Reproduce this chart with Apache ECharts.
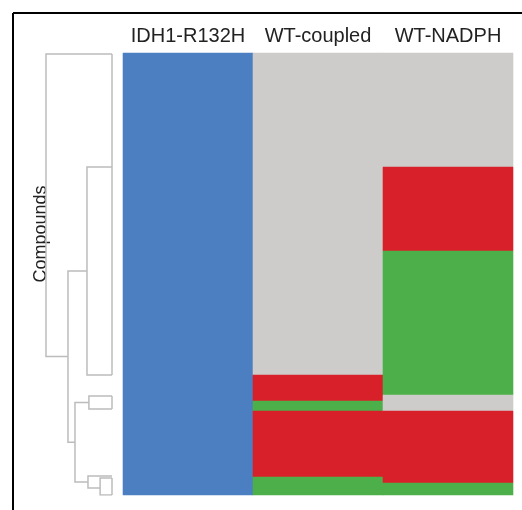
<!DOCTYPE html>
<html>
<head>
<meta charset="utf-8">
<script src="https://cdn.jsdelivr.net/npm/echarts@6/dist/echarts.min.js"></script>
<style>
html,body{margin:0;padding:0;background:#fff;}
#chart{width:522px;height:510px;}
</style>
</head>
<body>
<div id="chart"></div>
<script>
// ---- data ----
const assays = ['IDH1-R132H', 'WT-coupled', 'WT-NADPH'];
const nCompounds = 221;
// run-length encoded states per assay, top to bottom
// state codes: 0 = inactive (grey), 1 = red, 2 = green, 3 = blue
const idh1States = [3];
const idh1Counts = [221];
const coupledStates = [0, 1, 2, 1, 2];
const coupledCounts = [161, 13, 5, 33, 9];
const nadphStates = [0, 1, 2, 0, 1, 2];
const nadphCounts = [57, 42, 72, 8, 36, 6];
const stateColors = ['#cdcccb', '#d8202a', '#4caf4a', '#4b7fc1'];

// dendrogram merges: [topRow, topChildHeight, bottomRow, bottomChildHeight, mergeHeight]
const dendroMerges = [
  [0.5, 0, 161, 0, 0],
  [57, 0, 161, 0, 0.379],
  [171.5, 0, 178, 0, 0],
  [171.5, 0, 178, 0, 0.35],
  [211.5, 0, 217.5, 0.18, 0.364],
  [212.5, 0, 221, 0, 0],
  [212.5, 0, 221, 0, 0.18],
  [174.75, 0.35, 214.5, 0.364, 0.561],
  [109, 0.379, 194.6, 0.561, 0.667],
  [0.5, 0, 151.8, 0.667, 1.0]
];

// ---- build ----
function expand(states, counts, col) {
  const out = [];
  let r = 0;
  states.forEach((s, i) => {
    for (let k = 0; k < counts[i]; k++) { out.push([col, r, s]); r++; }
  });
  return out;
}
const heatData = [].concat(
  expand(idh1States, idh1Counts, 0),
  expand(coupledStates, coupledCounts, 1),
  expand(nadphStates, nadphCounts, 2)
);
const rows = [];
for (let i = 0; i < nCompounds; i++) rows.push('c' + (i + 1));

const dendroLines = dendroMerges.map(m => ({
  coords: [[m[1], m[0]], [m[4], m[0]], [m[4], m[2]], [m[3], m[2]]]
}));

const chart = echarts.init(document.getElementById('chart'), null, {renderer: 'canvas'});
chart.setOption({
  animation: false,
  backgroundColor: '#fff',
  textStyle: {fontFamily: 'Liberation Sans, Arial, sans-serif'},
  grid: [
    {left: 123, top: 53, width: 390, height: 442},
    {left: 46, top: 53, width: 66, height: 442}
  ],
  xAxis: [
    {
      type: 'category', data: assays, position: 'top', gridIndex: 0,
      axisLine: {show: false}, axisTick: {show: false}, splitLine: {show: false},
      axisLabel: {interval: 0, hideOverlap: false, fontSize: 20, color: '#222', margin: 7,
        fontFamily: 'Liberation Sans, Arial, sans-serif'}
    },
    {type: 'value', gridIndex: 1, min: 0, max: 1, inverse: true, show: false}
  ],
  yAxis: [
    {type: 'category', data: rows, inverse: true, gridIndex: 0, show: false},
    {type: 'value', gridIndex: 1, min: 0, max: nCompounds, inverse: true, show: false}
  ],
  visualMap: {
    type: 'piecewise', show: false, seriesIndex: 0, dimension: 2,
    pieces: stateColors.map((c, i) => ({value: i, color: c}))
  },
  series: [
    {
      type: 'heatmap', xAxisIndex: 0, yAxisIndex: 0, data: heatData,
      itemStyle: {borderWidth: 0}, emphasis: {disabled: true}
    },
    {
      type: 'lines', coordinateSystem: 'cartesian2d', xAxisIndex: 1, yAxisIndex: 1,
      polyline: true, data: dendroLines,
      lineStyle: {color: '#bcbcbc', width: 1.5, opacity: 1}
    }
  ],
  graphic: [
    {type: 'line', shape: {x1: 13, y1: 13, x2: 522, y2: 13}, style: {stroke: '#000', lineWidth: 2}},
    {type: 'line', shape: {x1: 13, y1: 13, x2: 13, y2: 510}, style: {stroke: '#000', lineWidth: 2}},
    {
      type: 'text', x: 41, y: 234, rotation: Math.PI / 2,
      style: {text: 'Compounds', fontSize: 18, fill: '#222', align: 'center', verticalAlign: 'middle',
        fontFamily: 'Liberation Sans, Arial, sans-serif'}
    }
  ]
});
</script>
</body>
</html>
